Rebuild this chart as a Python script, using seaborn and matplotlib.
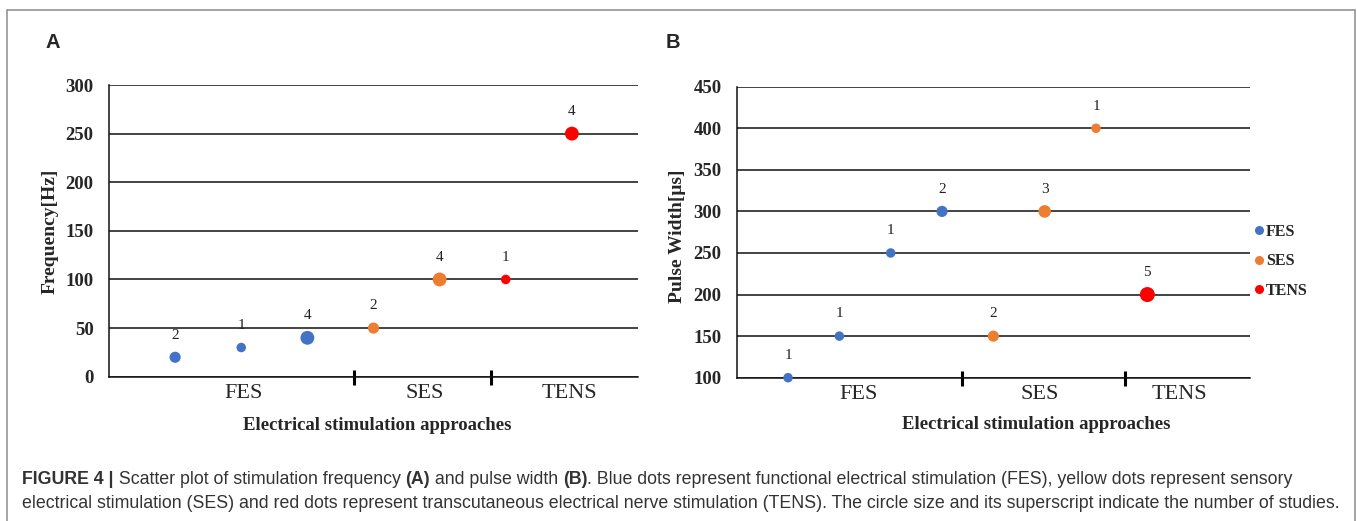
import numpy as np
import pandas as pd
import matplotlib
matplotlib.use("Agg")
import matplotlib.pyplot as plt
from matplotlib.lines import Line2D
import seaborn as sns

# ---------------- data ----------------
groups = ["FES", "SES", "TENS"]
group_colors = ["#4472C4", "#ED7D31", "#FF0000"]

freq_group = ["FES", "FES", "FES", "SES", "SES", "TENS", "TENS"]
freq_values = [20, 30, 40, 50, 100, 100, 250]
freq_counts = [2, 1, 4, 2, 4, 1, 4]

pw_group = ["FES", "FES", "FES", "FES", "SES", "SES", "SES", "TENS"]
pw_values = [100, 150, 250, 300, 150, 300, 400, 200]
pw_counts = [1, 1, 1, 2, 2, 3, 1, 5]

freq_ticks = [0, 50, 100, 150, 200, 250, 300]
pw_ticks = [100, 150, 200, 250, 300, 350, 400, 450]

x_title = "Electrical stimulation approaches"
caption_1 = [("FIGURE 4 |", "bold"), (" Scatter plot of stimulation frequency ", "normal"),
             ("(A)", "bold"), (" and pulse width ", "normal"), ("(B)", "bold"),
             (". Blue dots represent functional electrical stimulation (FES), yellow dots represent sensory", "normal")]
caption_2 = [("electrical stimulation (SES) and red dots represent transcutaneous electrical nerve stimulation (TENS). "
              "The circle size and its superscript indicate the number of studies.", "normal")]

# ---------------- style ----------------
sns.set_theme(style="white")
plt.rcParams["font.family"] = ["Liberation Serif", "DejaVu Serif"]

W, H = 1357, 521
fig = plt.figure(figsize=(W / 100, H / 100), dpi=100)

palette = dict(zip(groups, group_colors))


def panel(rect, grp, vals, cnts, ticks, xlim, cat_pos, div_pos, ylabel, ylab_xy, xlab_xy):
    ax = fig.add_axes(rect)
    df = pd.DataFrame({"idx": np.arange(1, len(vals) + 1), "value": vals, "group": grp, "n": cnts})
    sns.scatterplot(data=df, x="idx", y="value", hue="group", palette=palette, size="n",
                    sizes=(47, 117), size_norm=(1, 5), edgecolor="none", linewidth=0,
                    legend=False, ax=ax, zorder=3, clip_on=False, alpha=1)
    for _, r in df.iterrows():
        ax.annotate(str(r["n"]), (r["idx"], r["value"]), xytext=(0, 16), textcoords="offset points",
                    ha="center", va="center", fontsize=11, color="#222222")
    ax.set_xlim(*xlim)
    ax.set_ylim(ticks[0], ticks[-1])
    ax.set_yticks(ticks)
    ax.yaxis.grid(True, color="#111111", lw=1.1)
    ax.set_axisbelow(True)
    for s in ["top", "right"]:
        ax.spines[s].set_visible(False)
    for s in ["left", "bottom"]:
        ax.spines[s].set_color("#111111")
        ax.spines[s].set_linewidth(1.1)
    ax.tick_params(axis="y", length=0, pad=11, labelsize=13.5)
    for lab in ax.get_yticklabels():
        lab.set_fontweight("bold")
    ax.set_xticks(cat_pos)
    ax.set_xticklabels(groups, fontsize=16)
    ax.set_xticks(div_pos, minor=True)
    ax.tick_params(axis="x", which="major", length=0, pad=5.5)
    ax.tick_params(axis="x", which="minor", length=10.8, width=2.2, direction="inout",
                   color="black", bottom=True)
    ax.set_xlabel(x_title, fontsize=13.5, fontweight="bold", va="center")
    ax.xaxis.set_label_coords(*xlab_xy)
    ax.set_ylabel(ylabel, fontsize=14, fontweight="bold", va="center")
    ax.yaxis.set_label_coords(*ylab_xy)
    return ax


def frac_rect(l, r, t, b):
    return [l / W, 1 - b / H, (r - l) / W, (b - t) / H]


axA = panel(frac_rect(109, 638, 85, 376.7), freq_group, freq_values, freq_counts, freq_ticks,
            (0, 8), [2.03, 4.77, 6.96], [3.70, 5.78], "Frequency[Hz]",
            (-0.1115, 0.5), (0.507, -0.169))
axB = panel(frac_rect(736.7, 1250, 86.7, 377.7), pw_group, pw_values, pw_counts, pw_ticks,
            (0, 10), [2.38, 5.9, 8.62], [4.386, 7.57], "Pulse Width[μs]",
            (-0.1144, 0.487), (0.583, -0.1625))

handles = [Line2D([], [], marker="o", ls="", color=c, markersize=6.5, markeredgewidth=0) for c in group_colors]
axB.legend(handles, groups, loc="center left", bbox_to_anchor=(1.008, 0.4), frameon=False,
           handlelength=0.6, handletextpad=0.15, labelspacing=0.85, borderpad=0, borderaxespad=0,
           prop={"family": "Liberation Serif", "weight": "bold", "size": 11.5})

# panel letters
fig.text(46 / W, 1 - 47.7 / H, "A", fontsize=14.5, fontweight="bold", family="Liberation Sans", va="baseline")
fig.text(666 / W, 1 - 47.7 / H, "B", fontsize=14.5, fontweight="bold", family="Liberation Sans", va="baseline")

# border
bc = "#8c8c8c"
fig.add_artist(Line2D([7.3 / W, 7.3 / W], [0, 1 - 10 / H], color=bc, lw=1.1, transform=fig.transFigure))
fig.add_artist(Line2D([7.3 / W, 1355 / W], [1 - 10 / H, 1 - 10 / H], color=bc, lw=1.1, transform=fig.transFigure))
fig.add_artist(Line2D([1355 / W, 1355 / W], [0, 1 - 10 / H], color=bc, lw=1.1, transform=fig.transFigure))

# caption
renderer = fig.canvas.get_renderer()


def rich_line(x, y, parts, size):
    for txt, wt in parts:
        t = fig.text(x, y, txt, fontsize=size, fontweight=wt, family="Liberation Sans",
                     color="#333333", va="baseline", ha="left")
        bb = t.get_window_extent(renderer)
        x += bb.width / fig.bbox.width


rich_line(22 / W, 1 - 484 / H, caption_1, 12.75)
rich_line(22 / W, 1 - 508 / H, caption_2, 12.82)

fig.savefig("out.png", dpi=100, facecolor="white")
